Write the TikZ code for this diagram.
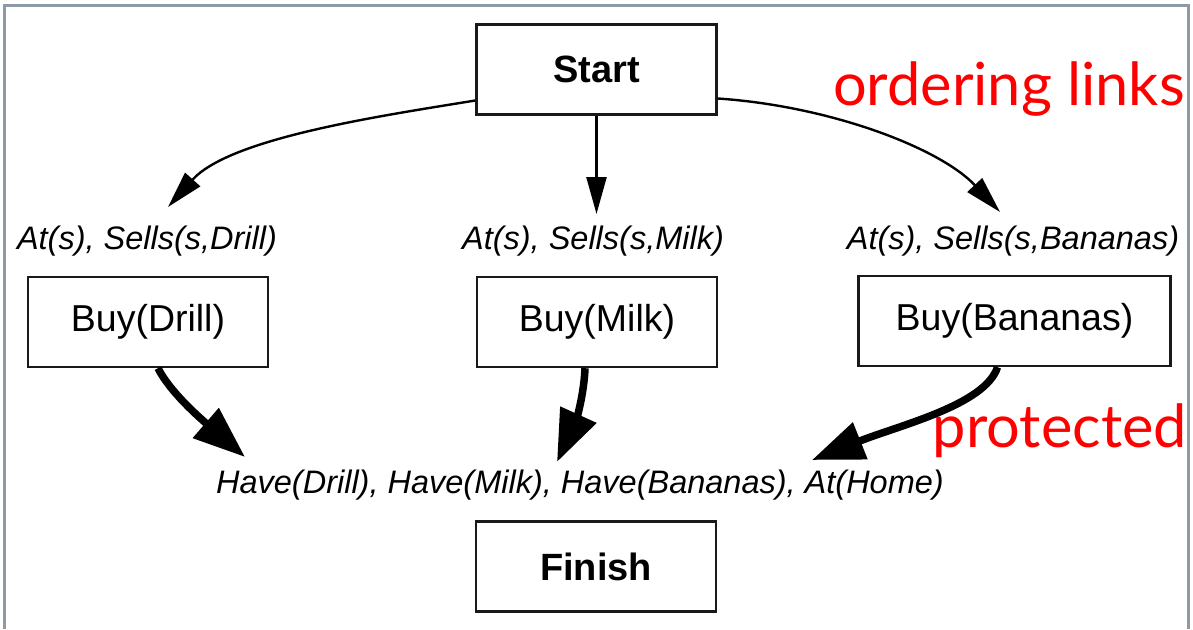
\documentclass[tikz,border=0pt]{standalone}
\usepackage{fontspec}
\setmainfont{Liberation Sans}
\newfontfamily\notefont{Lato}
\usetikzlibrary{arrows.meta}

\definecolor{framegray}{HTML}{8E9BA6}
\definecolor{notered}{HTML}{FF0000}

\tikzset{
  actbox/.style={draw=black!90, line width=2.4pt, fill=white, inner sep=0pt,
                 minimum width=240pt, minimum height=90pt, font=\fontsize{37.5}{40}\selectfont},
  endbox/.style={actbox, font=\fontsize{38}{40}\selectfont\bfseries},
  cond/.style={inner sep=0pt, font=\fontsize{32.5}{36}\selectfont\itshape},
  note/.style={inner sep=0pt, text=notered, font=\fontsize{59.5}{62}\selectfont\notefont},
  orderarrow/.style={line width=2.4pt, -{Triangle[length=37pt,width=20pt]}},
  causalarrow/.style={line width=7.5pt, -{Triangle[length=52pt,width=38pt]}},
}

\begin{document}
\begin{tikzpicture}[x=1pt, y=-1pt]
  \useasboundingbox (0,0) rectangle (1193,629);

  % slide frame
  \draw[framegray, line width=3pt] (4.5,629) -- (4.5,5) -- (1188,5) -- (1188,629);

  % steps of the plan
  \node[endbox] (start)  at (596.5,69.5) {Start};
  \node[actbox] (drill)  at (148,322)    {Buy(Drill)};
  \node[actbox] (milk)   at (597,322)    {Buy(Milk)};
  \node[actbox, minimum width=312pt] (ban) at (1014.5,321) {Buy(Bananas)};
  \node[endbox] (finish) at (596,566.5)  {Finish};

  % preconditions
  \node[cond] (drillpre) at (147,241)  {At(s), Sells(s,Drill)};
  \node[cond] (milkpre)  at (593,241)  {At(s), Sells(s,Milk)};
  \node[cond] (banpre)   at (1013,241) {At(s), Sells(s,Bananas)};
  \node[cond] (goal)     at (580,485)  {Have(Drill), Have(Milk), Have(Bananas), At(Home)};

  % annotations
  \node[note, anchor=base east] (ordlbl)  at (1185,105) {ordering links};
  \node[note, anchor=base east] (protlbl) at (1187,447) {protected};

  % arrow end points just above the condition labels
  \coordinate (drilltip) at ([shift={(21pt,34pt)}]drillpre.center);
  \coordinate (milktip)  at ([shift={(2pt,27pt)}]milkpre.center);
  \coordinate (bantip)   at ([shift={(-13pt,29pt)}]banpre.center);
  \coordinate (goaltipA) at ([shift={(-335pt,28pt)}]goal.center);
  \coordinate (goaltipB) at ([shift={(-23pt,23pt)}]goal.center);
  \coordinate (goaltipC) at ([shift={(232pt,25pt)}]goal.center);

  % ordering links
  \draw[orderarrow] ([yshift=-31pt]start.west) .. controls (380,116) and (230,138) .. (drilltip);
  \draw[orderarrow] (start.south) -- (start.south |- milktip);
  \draw[orderarrow] ([yshift=-29pt]start.east) .. controls (830,106) and (940,148) .. (bantip);

  % protected causal links
  \draw[causalarrow] ([xshift=10pt]drill.south) .. controls (170,392) and (200,418) .. (goaltipA);
  \draw[causalarrow] ([xshift=-12pt]milk.south) .. controls (584,395) and (576,420) .. (goaltipB);
  \draw[causalarrow] ([xshift=-17pt]ban.south) .. controls (985,405) and (900,425) .. (goaltipC);
\end{tikzpicture}
\end{document}
